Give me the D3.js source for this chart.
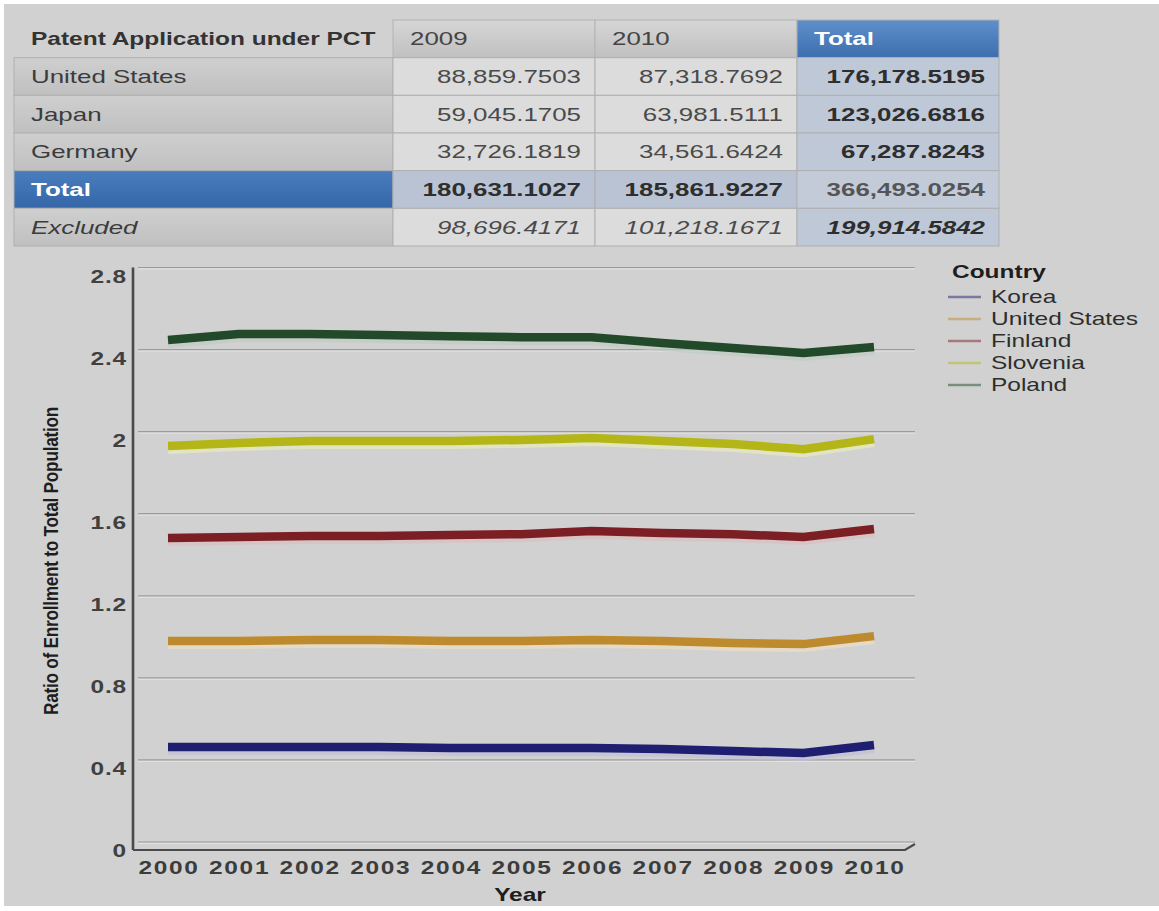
<!DOCTYPE html>
<html>
<head>
<meta charset="utf-8">
<script src="https://cdn.jsdelivr.net/npm/d3@7/dist/d3.min.js"></script>
<style>
  html, body { margin: 0; padding: 0; background: #ffffff; }
  svg { display: block; }
  text { font-family: "Liberation Sans", Arial, sans-serif; }
</style>
</head>
<body>
<svg id="chart" width="1159" height="911"></svg>
<script>
// ---- Table data -------------------------------------------------------
const tableTitle = "Patent Application under PCT";
const tableColumns = ["2009", "2010", "Total"];
const tableRows = ["United States", "Japan", "Germany", "Total", "Excluded"];
const values2009 = [88859.7503, 59045.1705, 32726.1819, 180631.1027, 98696.4171];
const values2010 = [87318.7692, 63981.5111, 34561.6424, 185861.9227, 101218.1671];
const valuesTotal = [176178.5195, 123026.6816, 67287.8243, 366493.0254, 199914.5842];

// ---- Line chart data --------------------------------------------------
const years = [2000, 2001, 2002, 2003, 2004, 2005, 2006, 2007, 2008, 2009, 2010];
const countries = ["Korea", "United States", "Finland", "Slovenia", "Poland"];
const korea        = [0.482, 0.482, 0.482, 0.482, 0.478, 0.478, 0.478, 0.473, 0.463, 0.453, 0.492];
const unitedStates = [0.999, 0.999, 1.004, 1.004, 0.999, 0.999, 1.004, 0.999, 0.989, 0.984, 1.023];
const finland      = [1.501, 1.506, 1.511, 1.511, 1.516, 1.520, 1.535, 1.525, 1.520, 1.506, 1.545];
const slovenia     = [1.949, 1.964, 1.974, 1.974, 1.974, 1.979, 1.988, 1.974, 1.959, 1.934, 1.983];
const poland       = [2.466, 2.495, 2.495, 2.490, 2.485, 2.480, 2.480, 2.451, 2.427, 2.403, 2.432];
const yTicks = [0, 0.4, 0.8, 1.2, 1.6, 2, 2.4, 2.8];

const seriesValues = [korea, unitedStates, finland, slovenia, poland];
const seriesColors = ["#1f1f72", "#bd8a2e", "#7c1f25", "#b4b617", "#22492a"];

// ---- Helpers ----------------------------------------------------------
const SX = 1.4; // horizontal stretch used for all text
const svg = d3.select("#chart");
const fmt = d3.format(",.4f");

function stretchedText(parent, x, y, str, o = {}) {
  return parent.append("text")
    .attr("transform", `translate(${x},${y}) scale(${SX},1)`)
    .attr("text-anchor", o.anchor || "start")
    .attr("dy", "0.35em")
    .style("font-size", (o.size || 18) + "px")
    .style("font-weight", o.weight || "normal")
    .style("font-style", o.style || "normal")
    .style("letter-spacing", (o.spacing || 0) + "px")
    .attr("fill", o.fill || "#3a3a3a")
    .text(str);
}

// ---- Background -------------------------------------------------------
svg.append("rect").attr("x", 4).attr("y", 4).attr("width", 1155).attr("height", 902)
  .attr("fill", "#d1d1d1");

const defs = svg.append("defs");
function grad(id, top, bottom) {
  const g = defs.append("linearGradient").attr("id", id)
    .attr("x1", 0).attr("y1", 0).attr("x2", 0).attr("y2", 1);
  g.append("stop").attr("offset", "0%").attr("stop-color", top);
  g.append("stop").attr("offset", "100%").attr("stop-color", bottom);
}
grad("hdrGray", "#d6d6d6", "#c0c0c0");
grad("hdrBlue", "#5f8fcb", "#3d6eae");
grad("rowGray", "#cfcfcf", "#c0c0c0");
grad("rowBlue", "#4a7dbd", "#3567a8");

// ---- Table ------------------------------------------------------------
const colEdges = [14, 393, 595, 797, 999];
const rowScale = d3.scaleBand().domain(d3.range(tableRows.length + 1)).range([20, 246]).padding(0);
const rh = rowScale.bandwidth();
const table = svg.append("g");

// header row
const headerFills = ["none", "url(#hdrGray)", "url(#hdrGray)", "url(#hdrBlue)"];
headerFills.forEach((f, i) => {
  if (f === "none") return;
  table.append("rect")
    .attr("x", colEdges[i]).attr("y", rowScale(0))
    .attr("width", colEdges[i + 1] - colEdges[i]).attr("height", rh)
    .attr("fill", f).attr("stroke", "#b3b3b3").attr("stroke-width", 1);
});
stretchedText(table, 31, rowScale(0) + rh / 2, tableTitle, { size: 17.5, weight: "bold", fill: "#333" });
tableColumns.forEach((c, i) => {
  const isTotal = c === "Total";
  stretchedText(table, colEdges[i + 1] + 17, rowScale(0) + rh / 2, c,
    { size: 18.5, weight: isTotal ? "bold" : "normal", fill: isTotal ? "#ffffff" : "#444" });
});

// body rows
tableRows.forEach((name, r) => {
  const y0 = rowScale(r + 1);
  const isTotalRow = name === "Total";
  const isExcluded = name === "Excluded";
  const fills = isTotalRow
    ? ["url(#rowBlue)", "#b9c3d3", "#b9c3d3", "#c3cbd9"]
    : ["url(#rowGray)", "#dcdcdc", "#dcdcdc", "#bec8d7"];
  fills.forEach((f, i) => {
    table.append("rect")
      .attr("x", colEdges[i]).attr("y", y0)
      .attr("width", colEdges[i + 1] - colEdges[i]).attr("height", rh)
      .attr("fill", f).attr("stroke", "#b0b0b0").attr("stroke-width", 1);
  });
  stretchedText(table, 31, y0 + rh / 2, name, {
    size: 18.5,
    weight: isTotalRow ? "bold" : "normal",
    style: isExcluded ? "italic" : "normal",
    fill: isTotalRow ? "#ffffff" : "#3c3c3c"
  });
  const cells = [values2009[r], values2010[r], valuesTotal[r]];
  cells.forEach((v, i) => {
    const grand = isTotalRow && i === 2;
    const bold = isTotalRow ? i < 2 : i === 2;
    stretchedText(table, colEdges[i + 2] - 14, y0 + rh / 2, fmt(v), {
      anchor: "end",
      size: 18.5,
      weight: (bold || grand) ? "bold" : "normal",
      style: isExcluded ? "italic" : "normal",
      fill: grand ? "#555555" : (bold ? "#2e2e2e" : "#4a4a4a")
    });
  });
});

// ---- Line chart -------------------------------------------------------
const x = d3.scalePoint().domain(years).range([168, 874]);
const y = d3.scaleLinear().domain([0, 2.8]).range([842, 267.5]); // back wall
const depth = 8; // offset of the front plane (down) in the pseudo-3D frame
const gridX0 = 138, gridX1 = 915;
const frontX = 133;

const chart = svg.append("g");

// gridlines on the back wall
const grid = chart.append("g");
grid.selectAll("line.g").data(yTicks).join("line")
  .attr("x1", gridX0).attr("x2", gridX1)
  .attr("y1", d => y(d)).attr("y2", d => y(d))
  .attr("stroke", "#9c9c9c").attr("stroke-width", 1.2);
grid.selectAll("line.h").data(yTicks).join("line")
  .attr("x1", gridX0).attr("x2", gridX1)
  .attr("y1", d => y(d) + 1.5).attr("y2", d => y(d) + 1.5)
  .attr("stroke", "#e2e2e2").attr("stroke-width", 1);

// axes of the front plane
chart.append("line")
  .attr("x1", frontX).attr("x2", frontX)
  .attr("y1", y(2.8)).attr("y2", y(0) + depth)
  .attr("stroke", "#4a4a4a").attr("stroke-width", 2.6);
chart.append("path")
  .attr("d", `M${frontX},${y(0) + depth}L${gridX1 - 10},${y(0) + depth}L${gridX1},${y(0) + 2}`)
  .attr("fill", "none").attr("stroke", "#4a4a4a").attr("stroke-width", 2.2);

// y tick labels
yTicks.forEach(t => {
  stretchedText(chart, 127, y(t) + 9, String(t), {
    anchor: "end", size: 17.5, weight: "bold", spacing: 0.6, fill: "#404040"
  });
});

// x tick labels
years.forEach(yr => {
  stretchedText(chart, x(yr) + 1, 868, String(yr), {
    anchor: "middle", size: 17.5, weight: "bold", spacing: 1.2, fill: "#3c3c3c"
  });
});

// axis titles
stretchedText(chart, 520, 895, "Year", { anchor: "middle", size: 17.5, weight: "bold", fill: "#1e1e1e" });
chart.append("text")
  .attr("transform", "translate(51,561) rotate(-90) scale(0.96,1.12)")
  .attr("text-anchor", "middle")
  .attr("dy", "0.35em")
  .style("font-size", "18px")
  .style("font-weight", "bold")
  .style("letter-spacing", "-0.3px")
  .attr("fill", "#1e1e1e")
  .text("Ratio of Enrollment to Total Population");

// series ribbons
const line = d3.line().x((d, i) => x(years[i])).y(d => y(d) + depth / 2).curve(d3.curveLinear);
const lines = chart.append("g");
seriesValues.forEach((vals, k) => {
  const c = seriesColors[k];
  lines.append("path")
    .attr("d", line(vals))
    .attr("transform", "translate(0,3)")
    .attr("fill", "none")
    .attr("stroke", d3.interpolateRgb(c, "#ffffff")(0.72))
    .attr("stroke-opacity", 0.7)
    .attr("stroke-width", 10);
  lines.append("path")
    .attr("d", line(vals))
    .attr("fill", "none")
    .attr("stroke", c)
    .attr("stroke-width", 8.5)
    .attr("stroke-linejoin", "round");
});

// ---- Legend -----------------------------------------------------------
const legend = svg.append("g");
stretchedText(legend, 952, 272, "Country", { size: 17.5, weight: "bold", fill: "#1e1e1e" });
countries.forEach((name, k) => {
  const ly = 297 + k * 22;
  legend.append("line")
    .attr("x1", 948).attr("x2", 981).attr("y1", ly).attr("y2", ly)
    .attr("stroke", d3.interpolateRgb(seriesColors[k], "#d2d2d2")(0.5))
    .attr("stroke-width", 2.6);
  stretchedText(legend, 991, ly, name, { size: 17.5, fill: "#2e2e2e" });
});
</script>
</body>
</html>
